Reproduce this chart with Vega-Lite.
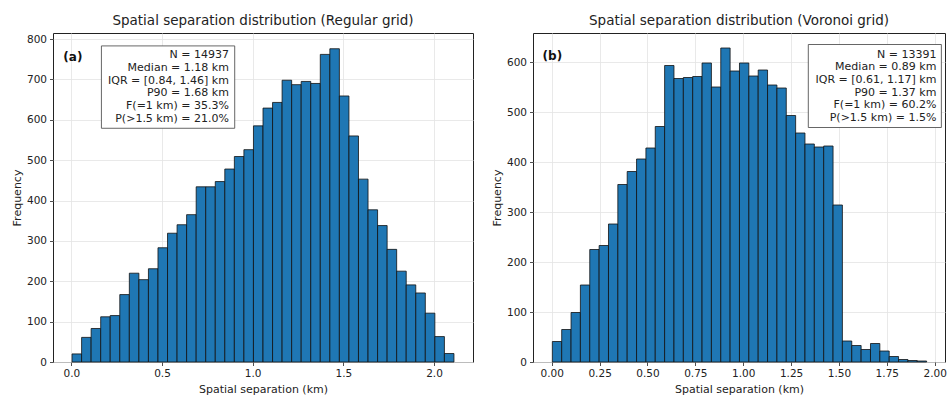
{
  "$schema": "https://vega.github.io/schema/vega-lite/v6.json",
  "padding": {"left": 10, "top": 13, "right": 4, "bottom": 2},
  "spacing": 16,
  "background": "white",
  "datasets": {
    "regular": [
      {"x0": 0.0040, "x1": 0.0567, "count": 20},
      {"x0": 0.0567, "x1": 0.1093, "count": 61},
      {"x0": 0.1093, "x1": 0.1620, "count": 83},
      {"x0": 0.1620, "x1": 0.2146, "count": 112},
      {"x0": 0.2146, "x1": 0.2673, "count": 115},
      {"x0": 0.2673, "x1": 0.3199, "count": 167},
      {"x0": 0.3199, "x1": 0.3726, "count": 220},
      {"x0": 0.3726, "x1": 0.4252, "count": 204},
      {"x0": 0.4252, "x1": 0.4779, "count": 231},
      {"x0": 0.4779, "x1": 0.5305, "count": 283},
      {"x0": 0.5305, "x1": 0.5832, "count": 319},
      {"x0": 0.5832, "x1": 0.6358, "count": 340},
      {"x0": 0.6358, "x1": 0.6885, "count": 365},
      {"x0": 0.6885, "x1": 0.7411, "count": 434},
      {"x0": 0.7411, "x1": 0.7938, "count": 434},
      {"x0": 0.7938, "x1": 0.8464, "count": 447},
      {"x0": 0.8464, "x1": 0.8991, "count": 478},
      {"x0": 0.8991, "x1": 0.9517, "count": 509},
      {"x0": 0.9517, "x1": 1.0044, "count": 526},
      {"x0": 1.0044, "x1": 1.0570, "count": 585},
      {"x0": 1.0570, "x1": 1.1097, "count": 629},
      {"x0": 1.1097, "x1": 1.1623, "count": 643},
      {"x0": 1.1623, "x1": 1.2150, "count": 698},
      {"x0": 1.2150, "x1": 1.2676, "count": 687},
      {"x0": 1.2676, "x1": 1.3203, "count": 695},
      {"x0": 1.3203, "x1": 1.3729, "count": 690},
      {"x0": 1.3729, "x1": 1.4256, "count": 762},
      {"x0": 1.4256, "x1": 1.4782, "count": 776},
      {"x0": 1.4782, "x1": 1.5309, "count": 659},
      {"x0": 1.5309, "x1": 1.5835, "count": 560},
      {"x0": 1.5835, "x1": 1.6362, "count": 453},
      {"x0": 1.6362, "x1": 1.6888, "count": 377},
      {"x0": 1.6888, "x1": 1.7415, "count": 338},
      {"x0": 1.7415, "x1": 1.7941, "count": 279},
      {"x0": 1.7941, "x1": 1.8468, "count": 225},
      {"x0": 1.8468, "x1": 1.8994, "count": 191},
      {"x0": 1.8994, "x1": 1.9521, "count": 171},
      {"x0": 1.9521, "x1": 2.0047, "count": 121},
      {"x0": 2.0047, "x1": 2.0574, "count": 63},
      {"x0": 2.0574, "x1": 2.1100, "count": 21}
    ],
    "voronoi": [
      {"x0": 0.0030, "x1": 0.0519, "count": 41},
      {"x0": 0.0519, "x1": 0.1008, "count": 65},
      {"x0": 0.1008, "x1": 0.1496, "count": 99},
      {"x0": 0.1496, "x1": 0.1985, "count": 154},
      {"x0": 0.1985, "x1": 0.2474, "count": 225},
      {"x0": 0.2474, "x1": 0.2963, "count": 233},
      {"x0": 0.2963, "x1": 0.3451, "count": 276},
      {"x0": 0.3451, "x1": 0.3940, "count": 355},
      {"x0": 0.3940, "x1": 0.4429, "count": 381},
      {"x0": 0.4429, "x1": 0.4918, "count": 406},
      {"x0": 0.4918, "x1": 0.5406, "count": 428},
      {"x0": 0.5406, "x1": 0.5895, "count": 471},
      {"x0": 0.5895, "x1": 0.6384, "count": 593},
      {"x0": 0.6384, "x1": 0.6873, "count": 567},
      {"x0": 0.6873, "x1": 0.7361, "count": 569},
      {"x0": 0.7361, "x1": 0.7850, "count": 571},
      {"x0": 0.7850, "x1": 0.8339, "count": 598},
      {"x0": 0.8339, "x1": 0.8828, "count": 550},
      {"x0": 0.8828, "x1": 0.9316, "count": 628},
      {"x0": 0.9316, "x1": 0.9805, "count": 582},
      {"x0": 0.9805, "x1": 1.0294, "count": 598},
      {"x0": 1.0294, "x1": 1.0783, "count": 572},
      {"x0": 1.0783, "x1": 1.1271, "count": 584},
      {"x0": 1.1271, "x1": 1.1760, "count": 554},
      {"x0": 1.1760, "x1": 1.2249, "count": 548},
      {"x0": 1.2249, "x1": 1.2738, "count": 493},
      {"x0": 1.2738, "x1": 1.3226, "count": 458},
      {"x0": 1.3226, "x1": 1.3715, "count": 436},
      {"x0": 1.3715, "x1": 1.4204, "count": 430},
      {"x0": 1.4204, "x1": 1.4693, "count": 432},
      {"x0": 1.4693, "x1": 1.5181, "count": 314},
      {"x0": 1.5181, "x1": 1.5670, "count": 42},
      {"x0": 1.5670, "x1": 1.6159, "count": 33},
      {"x0": 1.6159, "x1": 1.6648, "count": 25},
      {"x0": 1.6648, "x1": 1.7136, "count": 37},
      {"x0": 1.7136, "x1": 1.7625, "count": 22},
      {"x0": 1.7625, "x1": 1.8114, "count": 11},
      {"x0": 1.8114, "x1": 1.8603, "count": 5},
      {"x0": 1.8603, "x1": 1.9091, "count": 3},
      {"x0": 1.9091, "x1": 1.9580, "count": 2}
    ]
  },
  "hconcat": [
    {
      "width": 420,
      "height": 329,
      "title": {"text": "Spatial separation distribution (Regular grid)"},
      "layer": [
        {
          "data": {"name": "regular"},
          "mark": {"type": "bar", "fill": "#1f77b4", "stroke": "#111111", "strokeWidth": 0.8, "opacity": 1},
          "encoding": {
            "x": {"field": "x0", "type": "quantitative", "scale": {"domain": [-0.101, 2.215], "nice": false, "zero": false},
                  "axis": {"title": "Spatial separation (km)", "values": [0, 0.5, 1, 1.5, 2], "format": ".1f"}},
            "x2": {"field": "x1"},
            "y": {"field": "count", "type": "quantitative", "scale": {"domain": [0, 815], "nice": false},
                  "axis": {"title": "Frequency", "values": [0, 100, 200, 300, 400, 500, 600, 700, 800]}},
            "y2": {"datum": 0}
          }
        },
        {
          "data": {"values": [{}]},
          "mark": {"type": "rect", "fill": "white", "stroke": "#555555", "strokeWidth": 0.9},
          "encoding": {
            "x": {"datum": 0.166, "type": "quantitative"},
            "x2": {"datum": 0.901},
            "y": {"datum": 783, "type": "quantitative"},
            "y2": {"datum": 579}
          }
        },
        {
          "data": {"values": [{}]},
          "mark": {"type": "text", "align": "right", "baseline": "top", "fontSize": 11, "lineHeight": 12.7, "color": "#222222"},
          "encoding": {
            "x": {"datum": 0.869, "type": "quantitative"},
            "y": {"datum": 775, "type": "quantitative"},
            "text": {"value": ["N = 14937", "Median = 1.18 km", "IQR = [0.84, 1.46] km", "P90 = 1.68 km", "F(=1 km) = 35.3%", "P(>1.5 km) = 21.0%"]}
          }
        },
        {
          "data": {"values": [{}]},
          "mark": {"type": "text", "align": "left", "baseline": "middle", "fontSize": 12, "fontWeight": "bold", "color": "#111111"},
          "encoding": {
            "x": {"datum": -0.044, "type": "quantitative"},
            "y": {"datum": 756, "type": "quantitative"},
            "text": {"value": "(a)"}
          }
        }
      ]
    },
    {
      "width": 412,
      "height": 329,
      "title": {"text": "Spatial separation distribution (Voronoi grid)"},
      "layer": [
        {
          "data": {"name": "voronoi"},
          "mark": {"type": "bar", "fill": "#1f77b4", "stroke": "#111111", "strokeWidth": 0.8, "opacity": 1},
          "encoding": {
            "x": {"field": "x0", "type": "quantitative", "scale": {"domain": [-0.098, 2.054], "nice": false, "zero": false},
                  "axis": {"title": "Spatial separation (km)", "values": [0, 0.25, 0.5, 0.75, 1, 1.25, 1.5, 1.75, 2], "format": ".2f"}},
            "x2": {"field": "x1"},
            "y": {"field": "count", "type": "quantitative", "scale": {"domain": [0, 658], "nice": false},
                  "axis": {"title": "Frequency", "values": [0, 100, 200, 300, 400, 500, 600]}},
            "y2": {"datum": 0}
          }
        },
        {
          "data": {"values": [{}]},
          "mark": {"type": "rect", "fill": "white", "stroke": "#555555", "strokeWidth": 0.9},
          "encoding": {
            "x": {"datum": 1.340, "type": "quantitative"},
            "x2": {"datum": 2.035},
            "y": {"datum": 635, "type": "quantitative"},
            "y2": {"datum": 469}
          }
        },
        {
          "data": {"values": [{}]},
          "mark": {"type": "text", "align": "right", "baseline": "top", "fontSize": 11, "lineHeight": 12.7, "color": "#222222"},
          "encoding": {
            "x": {"datum": 2.009, "type": "quantitative"},
            "y": {"datum": 627, "type": "quantitative"},
            "text": {"value": ["N = 13391", "Median = 0.89 km", "IQR = [0.61, 1.17] km", "P90 = 1.37 km", "F(=1 km) = 60.2%", "P(>1.5 km) = 1.5%"]}
          }
        },
        {
          "data": {"values": [{}]},
          "mark": {"type": "text", "align": "left", "baseline": "middle", "fontSize": 12, "fontWeight": "bold", "color": "#111111"},
          "encoding": {
            "x": {"datum": -0.048, "type": "quantitative"},
            "y": {"datum": 612, "type": "quantitative"},
            "text": {"value": "(b)"}
          }
        }
      ]
    }
  ],
  "config": {
    "font": "DejaVu Sans",
    "view": {"stroke": "#222222", "strokeWidth": 1},
    "title": {"fontSize": 13.5, "fontWeight": "normal", "color": "#222222", "offset": 6, "anchor": "middle", "font": "DejaVu Sans"},
    "axis": {
      "grid": true,
      "gridColor": "#e3e3e3",
      "gridWidth": 0.8,
      "domain": false,
      "ticks": true,
      "tickColor": "#222222",
      "tickSize": 3.5,
      "tickWidth": 0.8,
      "labelFont": "DejaVu Sans",
      "labelFontSize": 10.5,
      "labelColor": "#222222",
      "labelPadding": 3,
      "titleFont": "DejaVu Sans",
      "titleFontSize": 11,
      "titleFontWeight": "normal",
      "titleColor": "#222222",
      "titlePadding": 4,
      "labelFlush": false,
      "labelOverlap": false
    }
  }
}
